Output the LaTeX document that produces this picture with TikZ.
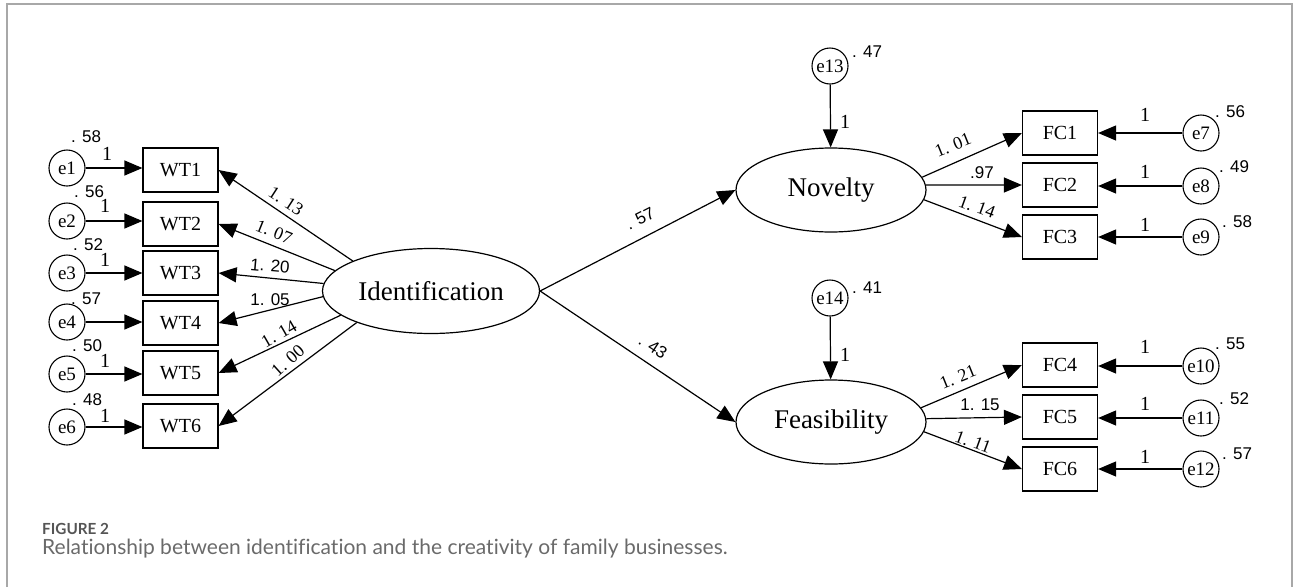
\documentclass[tikz,border=0pt]{standalone}
\usepackage{fontspec}
\setmainfont{Liberation Serif}
\newfontfamily\numsans{Liberation Sans}
\newfontfamily\capfont[Ligatures=NoCommon]{Lato}
\usetikzlibrary{arrows.meta,shapes.geometric}
\definecolor{framegray}{HTML}{A8A8A8}
\definecolor{capdark}{HTML}{555555}
\definecolor{caplight}{HTML}{6A6A6A}
\begin{document}
\begin{tikzpicture}[x=1pt,y=-1pt,
  every node/.style={inner sep=0pt},
  lat/.style={draw, ellipse, line width=1.2pt, minimum width=190pt, minimum height=84pt, font=\fontsize{27}{30}\selectfont},
  obs/.style={draw, rectangle, line width=1.2pt, minimum width=75pt, minimum height=44pt, font=\fontsize{20}{22}\selectfont},
  err/.style={draw, circle, line width=1.1pt, minimum size=36pt, font=\fontsize{19}{20}\selectfont},
  arr/.style={line width=1.2pt, -{Triangle[length=18pt,width=15pt]}},
  coef/.style={font=\fontsize{18}{19}\selectfont},
  coefs/.style={font=\numsans\fontsize{17}{18}\selectfont},
  var/.style={font=\numsans\fontsize{17}{18}\selectfont},
  one/.style={font=\fontsize{20}{21}\selectfont}
]
\useasboundingbox (0,0) rectangle (1293,587);
\draw[framegray, line width=1.5pt] (7,587) -- (7,4) -- (1292,4) -- (1292,587);

% latent variables
\node[lat, minimum width=217pt, minimum height=85pt] (id) at (431,291) {Identification};
\node[lat] (nov) at (831,190) {Novelty};
\node[lat] (fea) at (831,422) {Feasibility};

% left indicators
\node[obs] (wt1) at (180.5,170) {WT1};
\node[obs] (wt2) at (180.5,224) {WT2};
\node[obs] (wt3) at (180.5,273) {WT3};
\node[obs] (wt4) at (180.5,323) {WT4};
\node[obs] (wt5) at (180.5,373) {WT5};
\node[obs] (wt6) at (180.5,426) {WT6};
\node[err] (e1) at (67,168) {e1};
\node[err] (e2) at (67,221) {e2};
\node[err] (e3) at (67,273) {e3};
\node[err] (e4) at (67,322) {e4};
\node[err] (e5) at (67,374) {e5};
\node[err] (e6) at (67,427) {e6};
\foreach \i in {1,...,6}{\draw[arr] (e\i) -- (e\i -| wt\i.west);}

\node[var] (v1) at (86,137) {. 58};
\node[var] (v2) at (89,192) {. 56};
\node[var] (v3) at (88,245) {. 52};
\node[var] (v4) at (86,299) {. 57};
\node[var] (v5) at (87,346) {. 50};
\node[var] (v6) at (87,400) {. 48};
\node[one] (o1) at (107,154) {1};
\node[one] (o2) at (105,206) {1};
\node[one] (o3) at (105,260) {1};
\node[one] (o5) at (105,361) {1};
\node[one] (o6) at (105,416) {1};

\draw[arr] (id.159) -- (wt1.east);
\draw[arr] (id.168) -- (wt2.east);
\draw[arr] (id.176) -- (wt3.east);
\draw[arr] (id.183) -- (wt4.east);
\draw[arr] (id.195) -- (wt5.east);
\draw[arr] (id.203) -- (wt6.east);
\node[coef, rotate=-33] (c1) at (286,201) {1. 13};
\node[coef, rotate=-22] (c2) at (274,232) {1. 07};
\node[coefs, rotate=-5] (c3) at (270,266) {1. 20};
\node[coefs] (c4) at (270,300) {1. 05};
\node[coef, rotate=30] (c5) at (279,334) {1. 14};
\node[coef, rotate=42] (c6) at (288,361) {1. 00};

% structural paths
\draw[arr] (id.east) -- (nov.west);
\draw[arr] (id.east) -- (fea.west);
\node[coefs, rotate=27] (p1) at (640,219) {. 57};
\node[coefs, rotate=-33] (p2) at (653,347) {. 43};

% disturbances
\node[err] (e13) at (830,66) {e13};
\node[err] (e14) at (830,298) {e14};
\draw[arr] (e13) -- (nov);
\draw[arr] (e14) -- (fea);
\node[var] (v13) at (867,52) {. 47};
\node[var] (v14) at (867,288) {. 41};
\node[one] (o13) at (845,122) {1};
\node[one] (o14) at (845,355) {1};

% right indicators
\node[obs] (fc1) at (1060,133) {FC1};
\node[obs] (fc2) at (1060,185) {FC2};
\node[obs] (fc3) at (1060,237) {FC3};
\node[obs] (fc4) at (1060,365) {FC4};
\node[obs] (fc5) at (1060,417) {FC5};
\node[obs] (fc6) at (1060,469) {FC6};
\node[err] (e7) at (1201,133) {e7};
\node[err] (e8) at (1201,186) {e8};
\node[err] (e9) at (1201,237) {e9};
\node[err] (e10) at (1201,366) {e10};
\node[err] (e11) at (1201,418) {e11};
\node[err] (e12) at (1201,469) {e12};
\foreach \i/\j in {7/1,8/2,9/3,10/4,11/5,12/6}{\draw[arr] (e\i) -- (e\i -| fc\j.east);}
\node[var] (v7) at (1230,112) {. 56};
\node[var] (v8) at (1234,167) {. 49};
\node[var] (v9) at (1237,222) {. 58};
\node[var] (v10) at (1230,344) {. 55};
\node[var] (v11) at (1234,399) {. 52};
\node[var] (v12) at (1237,454) {. 57};
\node[one] (o7) at (1145,115) {1};
\node[one] (o8) at (1145,172) {1};
\node[one] (o9) at (1145,225) {1};
\node[one] (o10) at (1145,347) {1};
\node[one] (o11) at (1145,404) {1};
\node[one] (o12) at (1145,457) {1};

\draw[arr] (nov.8) -- (fc1.west);
\draw[arr] (nov.3) -- (fc2.west);
\draw[arr] (nov.-6) -- (fc3.west);
\draw[arr] (fea.9) -- (fc4.west);
\draw[arr] (fea.2) -- (fc5.west);
\draw[arr] (fea.-6) -- (fc6.west);
\node[coef, rotate=22] (r1) at (953,145) {1. 01};
\node[coefs] (r2) at (982,173) {.97};
\node[coef, rotate=-20] (r3) at (977,207) {1. 14};
\node[coef, rotate=22] (r4) at (958,377) {1. 21};
\node[coefs] (r5) at (980,405) {1. 15};
\node[coef, rotate=-20] (r6) at (973,442) {1. 11};

% caption
\node[anchor=base west, text=capdark, font=\capfont\bfseries\fontsize{15.3}{17}\selectfont] (figlab) at (42,534) {FIGURE 2};
\node[anchor=base west, text=caplight, font=\capfont\fontsize{21}{23}\selectfont] (cap) at (42,554) {Relationship between identification and the creativity of family businesses.};
\end{tikzpicture}
\end{document}
